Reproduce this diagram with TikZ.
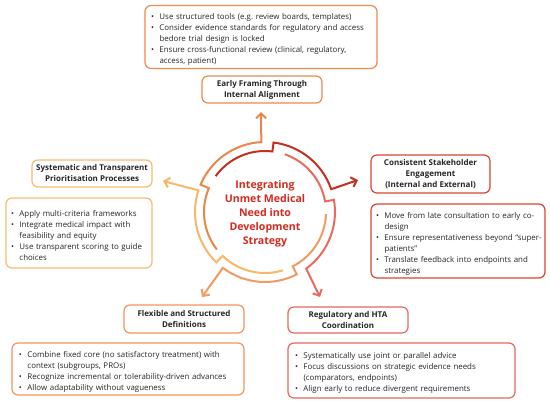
\documentclass[tikz,border=0pt]{standalone}
\usepackage{fontspec}
\setmainfont{Open Sans}
\usepackage{tikz}
\usetikzlibrary{arrows.meta}

\definecolor{ringOrange}{HTML}{E9874A}
\definecolor{ringRed}{HTML}{C2301F}
\definecolor{ringSalmon}{HTML}{EA6B5E}
\definecolor{ringPeach}{HTML}{F29A62}
\definecolor{ringLight}{HTML}{F7B867}
\definecolor{boxOrange}{HTML}{EE8A4E}
\definecolor{boxRed}{HTML}{DA4531}
\definecolor{boxSalmon}{HTML}{E9675B}
\definecolor{boxPeach}{HTML}{F2945F}
\definecolor{boxLight}{HTML}{F8BC70}
\definecolor{hubRed}{HTML}{D42A1F}
\definecolor{inkGray}{HTML}{262626}

% one bullet line, hanging indent
\newcommand{\itm}[1]{\par\hangindent=8.5pt\hangafter=1\noindent\makebox[8.5pt][l]{\textbullet}#1\par}
\frenchspacing

\begin{document}
\begin{tikzpicture}[x=1pt, y=1pt,
  titlebox/.style={draw, rounded corners=6pt, line width=1.2pt, fill=white, align=center,
    text=inkGray, font=\fontsize{8}{11}\selectfont\bfseries, minimum width=120pt, inner sep=2pt},
  listbox/.style={draw, rounded corners=6pt, line width=1.2pt, fill=white, align=left,
    text=inkGray, font=\fontsize{7.9}{11}\selectfont, inner ysep=3pt},
  ring/.style={line width=2pt, line join=miter, -{Straight Barb[length=5pt, width=10pt]}}]
\fill[white] (0,0) rectangle (550,-406);
\useasboundingbox (0,0) rectangle (550,-406);

% --- hub ---
\node[align=center, text=hubRed, font=\fontsize{10.6}{14}\selectfont\bfseries] (hub) at (265,-214)
  {Integrating\\Unmet Medical\\Need into\\Development\\Strategy};

% --- arrow tips ---
\coordinate (tipTop) at (261,-112);
\coordinate (tipRight) at (358,-180);
\coordinate (tipBR) at (320,-297);
\coordinate (tipBL) at (202,-297);
\coordinate (tipLeft) at (163,-181);

% --- ring segments: inner arc, step out, outer arc, arrow ---
\begin{scope}[shift={(265,-212)}]
\draw[ring, ringOrange] (218:61) arc[start angle=218, end angle=157, radius=61pt] -- (157:70)
  arc[start angle=157, end angle=93, radius=70pt] -- (tipTop);
\draw[ring, ringRed] (144:61) arc[start angle=144, end angle=83, radius=61pt] -- (83:70)
  arc[start angle=83, end angle=19, radius=70pt] -- (tipRight);
\draw[ring, ringSalmon] (71:61) arc[start angle=71, end angle=10, radius=61pt] -- (10:70)
  arc[start angle=10, end angle=-54, radius=70pt] -- (tipBR);
\draw[ring, ringPeach] (-2:61) arc[start angle=-2, end angle=-63, radius=61pt] -- (-63:70)
  arc[start angle=-63, end angle=-127, radius=70pt] -- (tipBL);
\draw[ring, ringLight] (287:61) arc[start angle=287, end angle=226, radius=61pt] -- (226:70)
  arc[start angle=226, end angle=162, radius=70pt] -- (tipLeft);
\end{scope}

% --- top ---
\node[listbox, draw=boxOrange, text width=220pt, inner xsep=6pt, minimum height=62pt] (topList) at (261,-37)
  {\itm{Use structured tools (e.g. review boards, templates)}%
   \itm{Consider evidence standards for regulatory and access\newline bedore trial design is locked}%
   \itm{Ensure cross-functional review (clinical, regulatory,\newline access, patient)}};
\node[titlebox, draw=boxOrange, minimum height=27pt] (topTitle) at (262,-89.5)
  {Early Framing Through\\Internal Alignment};

% --- right ---
\node[titlebox, draw=boxRed, minimum width=119pt, minimum height=38pt] (rightTitle) at (430.5,-174)
  {Consistent Stakeholder\\Engagement\\(Internal and External)};
\node[listbox, draw=boxRed, text width=164pt, inner xsep=5pt, minimum height=72pt] (rightList) at (458,-241)
  {\itm{Move from late consultation to early co-\newline design}%
   \itm{\mbox{Ensure representativeness beyond “super-}\newline patients”}%
   \itm{Translate feedback into endpoints and\newline strategies}};

% --- bottom right ---
\node[titlebox, draw=boxSalmon, minimum height=26pt] (brTitle) at (348,-320)
  {Regulatory and HTA\\Coordination};
\node[listbox, draw=boxSalmon, text width=213pt, inner xsep=7pt, minimum height=55pt] (brList) at (401.5,-370.5)
  {\itm{Systematically use joint or parallel advice}%
   \itm{Focus discussions on strategic evidence needs\newline (comparators, endpoints)}%
   \itm{Align early to reduce divergent requirements}};

% --- bottom left ---
\node[titlebox, draw=boxPeach, minimum height=28pt] (blTitle) at (184,-319)
  {Flexible and Structured\\Definitions};
\node[listbox, draw=boxPeach, text width=218pt, inner xsep=7pt, minimum height=52pt] (blList) at (128,-369)
  {\itm{Combine fixed core (no satisfactory treatment) with\newline context (subgroups, PROs)}%
   \itm{Recognize incremental or tolerability-driven advances}%
   \itm{Allow adaptability without vagueness}};

% --- left ---
\node[titlebox, draw=boxLight, minimum height=27pt] (leftTitle) at (92,-173.5)
  {Systematic and Transparent\\Prioritisation Processes};
\node[listbox, draw=boxLight, text width=136pt, inner xsep=5pt, minimum height=70pt] (leftList) at (79,-233)
  {\itm{Apply multi-criteria frameworks}%
   \itm{Integrate medical impact with\newline feasibility and equity}%
   \itm{Use transparent scoring to guide\newline choices}};
\end{tikzpicture}
\end{document}
